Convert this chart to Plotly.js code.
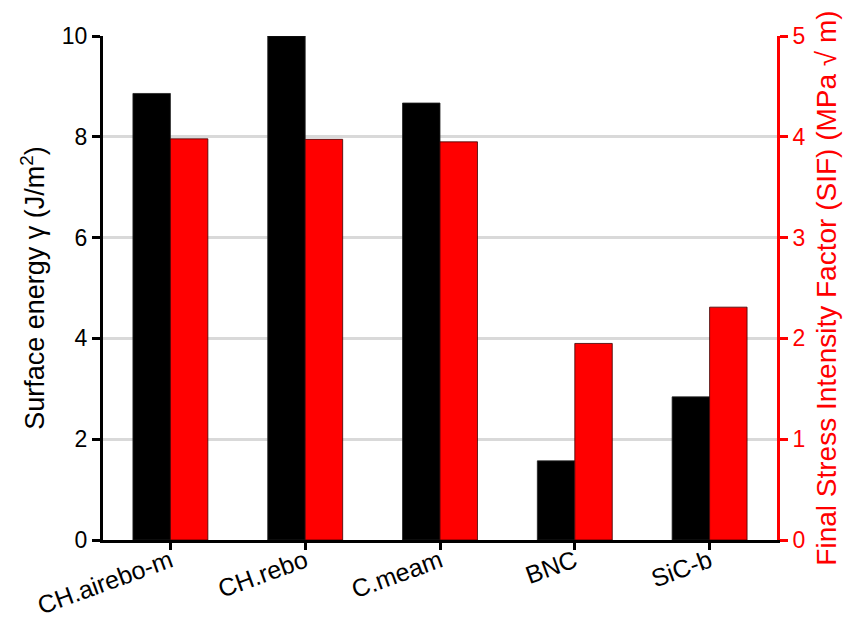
<!DOCTYPE html>
<html>
<head>
<meta charset="utf-8">
<script src="https://cdn.plot.ly/plotly-3.0.1.min.js"></script>
<style>
  html, body { margin: 0; padding: 0; background: #ffffff; }
  #chart { width: 850px; height: 617px; }
</style>
</head>
<body>
<div id="chart"></div>
<script>
// Potentials compared
const potentials = ['CH.airebo-m', 'CH.rebo', 'C.meam', 'BNC', 'SiC-b'];
// Surface energy gamma (J/m^2), left axis
const surfaceEnergy = [8.86, 10.0, 8.67, 1.57, 2.84];
// Final stress intensity factor (MPa sqrt(m)), right axis
const finalSIF = [3.98, 3.975, 3.95, 1.95, 2.31];

const leftTicks = [0, 2, 4, 6, 8, 10];
const rightTicks = [0, 1, 2, 3, 4, 5];

const fontFamily = '"Liberation Sans", Arial, Helvetica, sans-serif';
const barW = 0.278;

const traces = [
  {
    type: 'bar',
    name: 'Surface energy',
    x: potentials,
    y: surfaceEnergy,
    yaxis: 'y',
    width: barW,
    offset: -barW,
    marker: { color: '#000000', line: { color: '#222222', width: 0.8 } },
    hoverinfo: 'x+y'
  },
  {
    type: 'bar',
    name: 'Final SIF',
    x: potentials,
    y: finalSIF,
    yaxis: 'y2',
    width: barW,
    offset: 0,
    marker: { color: '#ff0000', line: { color: '#3a0000', width: 0.8 } },
    hoverinfo: 'x+y'
  }
];

const layout = {
  width: 850,
  height: 617,
  margin: { l: 103, r: 73, t: 36, b: 77 },
  paper_bgcolor: '#ffffff',
  plot_bgcolor: '#ffffff',
  showlegend: false,
  barmode: 'overlay',
  font: { family: fontFamily, color: '#000000', size: 23 },
  xaxis: {
    type: 'category',
    showgrid: false,
    zeroline: false,
    showline: true,
    linecolor: '#000000',
    linewidth: 3,
    ticks: 'outside',
    ticklen: 7,
    tickwidth: 3,
    tickcolor: '#000000',
    tickangle: -20,
    ticklabelstandoff: -13,
    tickfont: { family: fontFamily, size: 25, color: '#000000' }
  },
  yaxis: {
    range: [0, 10],
    tickvals: leftTicks,
    ticktext: leftTicks.map(String),
    showgrid: true,
    gridcolor: '#d9d9d9',
    gridwidth: 3,
    zeroline: false,
    showline: true,
    linecolor: '#000000',
    linewidth: 3,
    ticks: 'outside',
    ticklen: 8,
    tickwidth: 3,
    tickcolor: '#000000',
    tickfont: { family: fontFamily, size: 23, color: '#000000' },
    title: {
      text: 'Surface energy γ (J/m<sup>2</sup>)',
      font: { family: fontFamily, size: 27, color: '#000000' },
      standoff: 10
    }
  },
  yaxis2: {
    range: [0, 5],
    overlaying: 'y',
    side: 'right',
    tickvals: rightTicks,
    ticktext: rightTicks.map(String),
    showgrid: false,
    zeroline: false,
    showline: true,
    linecolor: '#ff0000',
    linewidth: 3,
    ticks: 'outside',
    ticklen: 8,
    tickwidth: 3,
    tickcolor: '#ff0000',
    tickfont: { family: fontFamily, size: 23, color: '#ff0000' },
    title: {
      text: 'Final Stress Intensity Factor (SIF) (MPa √ m)',
      font: { family: fontFamily, size: 28, color: '#ff0000' },
      standoff: 12
    }
  }
};

Plotly.newPlot('chart', traces, layout, { displayModeBar: false, staticPlot: true });
</script>
</body>
</html>
